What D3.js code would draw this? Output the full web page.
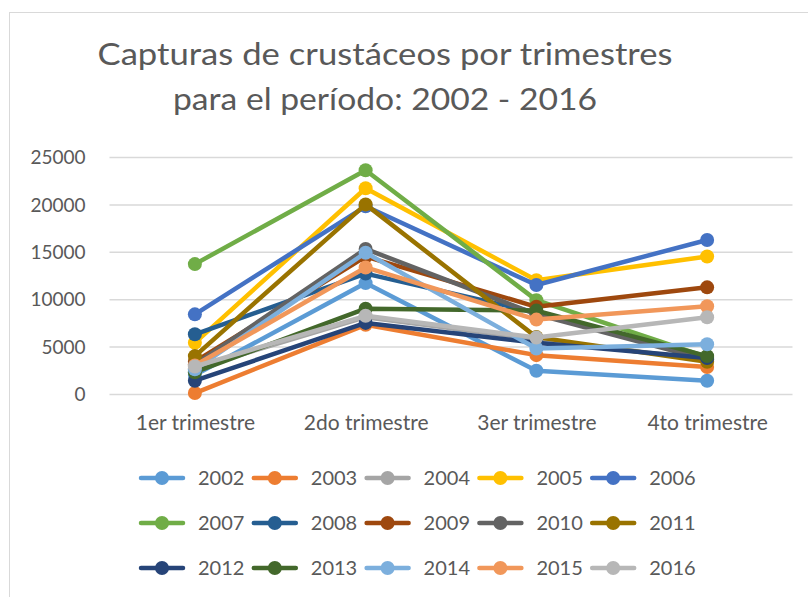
<!DOCTYPE html>
<html>
<head>
<meta charset="utf-8">
<script src="https://cdn.jsdelivr.net/npm/d3@7"></script>
<style>
  html, body { margin: 0; padding: 0; background: #fff; }
  svg { display: block; }
  text { font-family: Lato, "Open Sans", sans-serif; fill: #595959; }
</style>
</head>
<body>
<svg id="chart" width="808" height="597"></svg>
<script>
const titleLines = ["Capturas de crustáceos por trimestres", "para el período: 2002 - 2016"];
const categories = ["1er trimestre", "2do trimestre", "3er trimestre", "4to trimestre"];
const yTicks = [0, 5000, 10000, 15000, 20000, 25000];
const years = ["2002","2003","2004","2005","2006","2007","2008","2009","2010","2011","2012","2013","2014","2015","2016"];
const colors = ["#5B9BD5","#ED7D31","#A5A5A5","#FFC000","#4472C4","#70AD47","#255E91","#9E480E","#636363","#997300","#264478","#43682B","#7CAFDD","#F1975A","#B7B7B7"];
const v2002 = [2000, 11700, 2450, 1400];
const v2003 = [100, 7300, 4100, 2850];
const v2004 = [2700, 8100, 5800, 3600];
const v2005 = [5400, 21700, 12000, 14500];
const v2006 = [8400, 19800, 11500, 16250];
const v2007 = [13700, 23600, 9900, 3900];
const v2008 = [6300, 12700, 8600, 3700];
const v2009 = [3400, 14500, 9200, 11250];
const v2010 = [3100, 15300, 8400, 3600];
const v2011 = [4000, 20000, 6000, 3400];
const v2012 = [1400, 7500, 5400, 3800];
const v2013 = [2300, 9000, 8800, 4000];
const v2014 = [2600, 14900, 4800, 5250];
const v2015 = [3000, 13350, 7850, 9250];
const v2016 = [2900, 8250, 5950, 8100];
const seriesValues = [v2002,v2003,v2004,v2005,v2006,v2007,v2008,v2009,v2010,v2011,v2012,v2013,v2014,v2015,v2016];

const svg = d3.select("#chart");

// outer frame
svg.append("rect").attr("x", 9.5).attr("y", 12.5).attr("width", 820).attr("height", 620)
  .attr("fill", "#fff").attr("stroke", "#d9d9d9").attr("stroke-width", 1);

// title
const titleLens = [575, 424];
titleLines.forEach((t, i) => {
  svg.append("text").attr("x", 385).attr("y", 65 + i * 45)
    .attr("text-anchor", "middle").attr("font-size", 31)
    .attr("font-family", "'Open Sans', sans-serif")
    .attr("textLength", titleLens[i]).attr("lengthAdjust", "spacingAndGlyphs")
    .text(t);
});

const x = d3.scalePoint().domain(categories).range([109.5, 792.5]).padding(0.5);
const y = d3.scaleLinear().domain([0, 25000]).range([394, 157]);

// gridlines + y labels
const yAxis = d3.axisLeft(y).tickValues(yTicks).tickSize(-(792.5 - 109.5)).tickPadding(24).tickFormat(d3.format("d"));
const gy = svg.append("g").attr("transform", "translate(109.5,0)").call(yAxis);
gy.select(".domain").remove();
gy.selectAll(".tick line").attr("stroke", "#d9d9d9").attr("stroke-width", 1.5);
gy.selectAll(".tick text").attr("font-size", 19).attr("fill", "#595959")
  .attr("font-family", "Lato, sans-serif").attr("dy", "0.35em");

// x axis labels
const xAxis = d3.axisBottom(x).tickSize(0).tickPadding(21);
const gx = svg.append("g").attr("transform", "translate(0,394)").call(xAxis);
gx.select(".domain").remove();
gx.selectAll(".tick text").attr("font-size", 21).attr("fill", "#595959").attr("font-family", "Lato, sans-serif");

// series
const line = d3.line().x((d, i) => x(categories[i])).y(d => y(d));
const plot = svg.append("g");
seriesValues.forEach((vals, s) => {
  const g = plot.append("g");
  g.append("path").attr("d", line(vals)).attr("fill", "none")
    .attr("stroke", colors[s]).attr("stroke-width", 4.5).attr("stroke-linejoin", "round").attr("stroke-linecap", "round");
  g.selectAll("circle").data(vals).join("circle")
    .attr("cx", (d, i) => x(categories[i])).attr("cy", d => y(d)).attr("r", 7)
    .attr("fill", colors[s]);
});

// legend
const legend = svg.append("g");
years.forEach((yr, i) => {
  const col = i % 5, row = Math.floor(i / 5);
  const lx = 141 + col * 112.8, ly = 478 + row * 45;
  const g = legend.append("g").attr("transform", `translate(${lx},${ly})`);
  g.append("line").attr("x1", 0).attr("x2", 42).attr("y1", 0).attr("y2", 0)
    .attr("stroke", colors[i]).attr("stroke-width", 4.5).attr("stroke-linecap", "round");
  g.append("circle").attr("cx", 21).attr("cy", 0).attr("r", 7).attr("fill", colors[i]);
  g.append("text").attr("x", 57).attr("y", 0).attr("dy", "0.35em").attr("font-size", 20).text(yr);
});
</script>
</body>
</html>
